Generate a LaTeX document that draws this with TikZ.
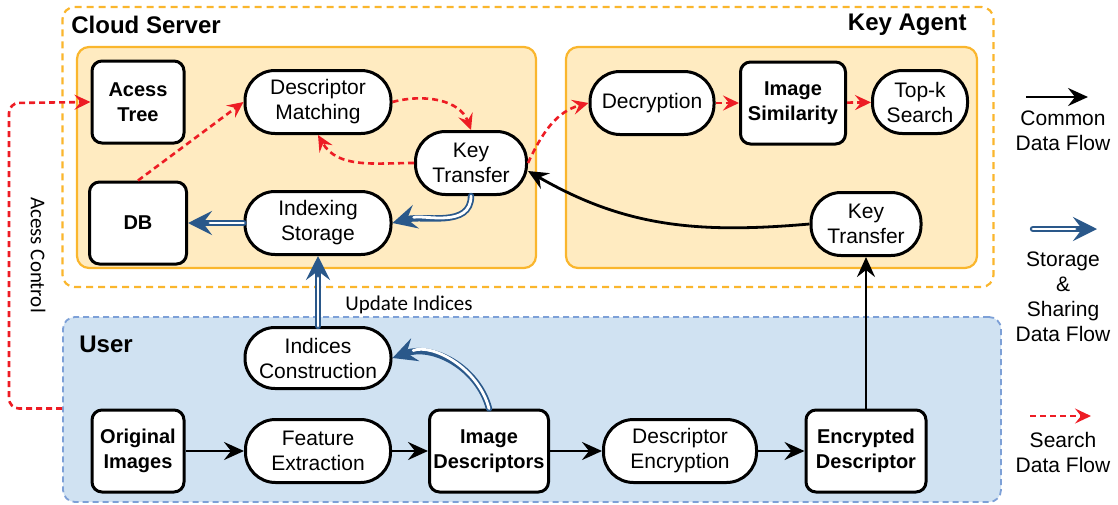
\documentclass[tikz,border=0pt]{standalone}
\usepackage{fontspec}
\setmainfont{Liberation Sans}
\newfontfamily\notefont{Carlito}
\usetikzlibrary{arrows.meta}

\definecolor{zoneorange}{RGB}{250,182,45}
\definecolor{zonefill}{RGB}{255,235,193}
\definecolor{userfill}{RGB}{208,226,242}
\definecolor{userline}{RGB}{125,160,215}
\definecolor{searchred}{RGB}{237,28,36}
\definecolor{storeblue}{RGB}{42,88,138}

\begin{document}
\begin{tikzpicture}[x=0.5pt, y=-0.5pt,
        every node/.style={inner sep=0pt, align=center},
        txt/.style={font=\fontsize{10.5}{12.5}\selectfont},
        process/.style={txt, draw, fill=white, line width=1.5pt, rounded corners=15pt, minimum height=31.5pt},
        store/.style={font=\fontsize{10}{12.5}\selectfont\bfseries, draw, fill=white, line width=1.5pt, rounded corners=5pt, minimum height=41pt},
        zone/.style={draw=zoneorange, fill=zonefill, line width=1.1pt, rounded corners=6pt},
        group/.style={draw=zoneorange, dash pattern=on 3.5pt off 2.5pt, line width=1.1pt, rounded corners=6pt},
        userzone/.style={draw=userline, fill=userfill, dash pattern=on 3pt off 2pt, line width=0.9pt, rounded corners=6pt},
        title/.style={font=\fontsize{12}{14}\selectfont\bfseries},
        note/.style={font=\notefont\fontsize{10.5}{12}\selectfont},
        common/.style={line width=1.4pt, -{Stealth[length=10pt,width=9pt,inset=3.5pt]}},
        search/.style={searchred, line width=1.3pt, dash pattern=on 3pt off 2pt, -{Stealth[length=8pt,width=7.5pt,inset=3pt]}},
        storage/.style={draw=storeblue, line width=3.2pt, line cap=round,
            -{Stealth[length=12pt,width=12pt,inset=4.5pt]},
            postaction={draw=white, line width=1.4pt, -, shorten >=11pt}}]
        \useasboundingbox (0,0) rectangle (1118,504);

        % Regions: cloud side (server + key agent) and user side
        \node[group, minimum width=465.5pt, minimum height=140pt] (cloud) at (528,147) {};
        \node[zone, minimum width=229.5pt, minimum height=110.5pt] (serverzone) at (306.5,157.5) {};
        \node[zone, minimum width=205.5pt, minimum height=110.5pt] (agentzone) at (771.5,157.5) {};
        \node[userzone, minimum width=469pt, minimum height=92.5pt] (user) at (532,409.5) {};
        \node[title, anchor=west] (cloudtitle) at (71,25) {Cloud Server};
        \node[title, anchor=east] (agenttitle) at (967,25) {Key Agent};
        \node[title, anchor=west] (usertitle) at (79,344) {User};

        % Cloud server
        \node[store, minimum width=46pt] (tree) at (138,102) {Acess\\Tree};
        \node[store, minimum width=48.5pt] (db) at (138,223) {DB};
        \node[process, minimum width=73pt] (match) at (318,102) {Descriptor\\Matching};
        \node[process, minimum width=55.5pt] (keyc) at (471,163) {Key\\Transfer};
        \node[process, minimum width=73pt] (index) at (318,223) {Indexing\\Storage};

        % Key agent
        \node[process, minimum width=62pt] (decrypt) at (652,103) {Decryption};
        \node[store, minimum width=52.5pt] (simil) at (793,103) {Image\\Similarity};
        \node[process, minimum width=47.5pt] (topk) at (920,102) {Top-k\\Search};
        \node[process, minimum width=55pt] (keya) at (866,224) {Key\\Transfer};

        % User
        \node[process, minimum width=73pt, minimum height=30.5pt] (indices) at (318,358) {Indices\\Construction};
        \node[store, minimum width=46pt] (orig) at (138,451) {Original\\Images};
        \node[process, minimum width=72.5pt] (feat) at (318,451) {Feature\\Extraction};
        \node[store, minimum width=59.5pt] (desc) at (489,451) {Image\\Descriptors};
        \node[process, minimum width=76.5pt] (encr) at (680,451) {Descriptor\\Encryption};
        \node[store, minimum width=60pt] (encd) at (866,451) {Encrypted\\Descriptor};

        % Search data flow
        \draw[search] (db.north) -- (match.west);
        \draw[search] (match.east) to[out=15,in=110] (keyc.north);
        \draw[search] (keyc.west) to[out=180,in=-60] (match.south);
        \draw[search] (keyc.east) to[out=65,in=195] (decrypt.west);
        \draw[search] (decrypt) -- (simil);
        \draw[search] (simil) -- (topk);
        \coordinate (acbend) at (9,103);
        \draw[search, rounded corners=5pt] (user.west |- orig.north) -| (acbend) -- (tree.west);
        \node[note, rotate=-90] (aclabel) at (38,255) {Acess Control};

        % Storage & sharing data flow
        \draw[storage] (keyc.south) to[out=-90,in=15] (index.east);
        \draw[storage] (index) -- (db);
        \draw[storage] (indices) -- (index);
        \draw[storage] (desc.north) to[out=105,in=20] (indices.east);
        \node[note] (updlabel) at (409,305) {Update Indices};

        % Common data flow
        \draw[common] (orig) -- (feat);
        \draw[common] (feat) -- (desc);
        \draw[common] (desc) -- (encr);
        \draw[common] (encr) -- (encd);
        \draw[common] (encd) -- (keya);
        \draw[common] (keya.west) to[out=185,in=-30] (keyc.-8);

        % Legend
        \coordinate (commonA) at (1026,97);
        \coordinate (commonB) at (1088,97);
        \draw[common] (commonA) -- (commonB);
        \node[txt] (commontext) at (1063,131) {Common\\Data Flow};
        \coordinate (storeA) at (1033,229);
        \coordinate (storeB) at (1097,229);
        \draw[storage] (storeA) -- (storeB);
        \node[txt] (storetext) at (1063,297) {Storage\\\&\\Sharing\\Data Flow};
        \coordinate (searchA) at (1030,416);
        \coordinate (searchB) at (1091,416);
        \draw[search] (searchA) -- (searchB);
        \node[txt] (searchtext) at (1063,452) {Search\\Data Flow};
    \end{tikzpicture}
\end{document}
